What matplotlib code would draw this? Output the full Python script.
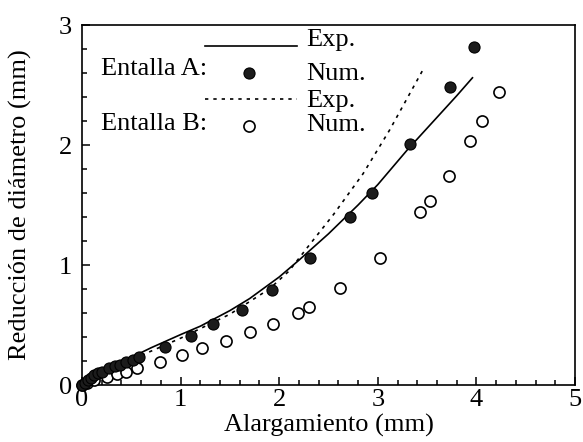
import matplotlib
matplotlib.use("Agg")
import matplotlib.pyplot as plt
from matplotlib.ticker import MultipleLocator
from matplotlib.lines import Line2D

plt.rcParams['font.family'] = ['Liberation Serif', 'DejaVu Serif']

# Entalla A experimental curve
x_A_exp = [0.0, 0.1, 0.2, 0.4, 0.7, 1.0, 1.2, 1.5, 1.7, 2.0, 2.2, 2.5, 2.8, 3.0, 3.3, 3.6, 3.8, 3.96]
y_A_exp = [0.0, 0.06, 0.11, 0.19, 0.31, 0.42, 0.49, 0.62, 0.72, 0.90, 1.04, 1.26, 1.50, 1.67, 1.96, 2.23, 2.41, 2.56]

# Entalla B experimental curve
x_B_exp = [0.0, 0.2, 0.5, 1.0, 1.5, 1.9, 2.1, 2.28, 2.55, 2.85, 3.12, 3.46]
y_B_exp = [0.0, 0.10, 0.21, 0.39, 0.59, 0.80, 0.95, 1.14, 1.42, 1.76, 2.125, 2.63]

# Entalla A numerical points
x_A_num = [0.0, 0.03, 0.06, 0.09, 0.12, 0.16, 0.20, 0.27, 0.33, 0.39, 0.45, 0.52, 0.58,
           0.84, 1.11, 1.33, 1.62, 1.93, 2.31, 2.72, 2.94, 3.33, 3.73, 3.98]
y_A_num = [0.0, 0.02, 0.04, 0.06, 0.08, 0.10, 0.11, 0.14, 0.16, 0.17, 0.19, 0.21, 0.23,
           0.32, 0.41, 0.505, 0.625, 0.79, 1.06, 1.40, 1.60, 2.01, 2.48, 2.82]

# Entalla B numerical points
x_B_num = [0.0, 0.05, 0.12, 0.25, 0.35, 0.45, 0.555, 0.79, 1.01, 1.22, 1.46, 1.70, 1.94,
           2.19, 2.30, 2.62, 3.02, 3.43, 3.53, 3.72, 3.94, 4.06, 4.23]
y_B_num = [0.0, 0.02, 0.04, 0.07, 0.09, 0.11, 0.14, 0.19, 0.25, 0.305, 0.37, 0.44, 0.505,
           0.60, 0.65, 0.81, 1.06, 1.44, 1.53, 1.74, 2.03, 2.20, 2.44]

x_ticks = [0, 1, 2, 3, 4, 5]
y_ticks = [0, 1, 2, 3]

fig = plt.figure(figsize=(5.83, 4.42), dpi=100)
ax = fig.add_axes([82/583, 1-385/442, 493/583, 360/442])

def ya(py):
    return (385 - py) / 360
def xa(px):
    return (px - 82) / 493

lw = 1.2
dot = (0, (2, 3))
ax.plot(x_A_exp, y_A_exp, color='black', lw=lw, zorder=2)
ax.plot(x_B_exp, y_B_exp, color='black', lw=lw, linestyle=dot, zorder=2)
ax.plot(x_B_num, y_B_num, linestyle='none', marker='o', markersize=8,
        markerfacecolor='white', markeredgecolor='black', markeredgewidth=1.2, zorder=3,
        clip_on=False)
ax.plot(x_A_num, y_A_num, linestyle='none', marker='o', markersize=8,
        markerfacecolor='#1c1c1c', markeredgecolor='black', markeredgewidth=0.8, zorder=4,
        clip_on=False)

ax.set_xlim(0, 5)
ax.set_ylim(0, 3)
ax.set_xticks(x_ticks)
ax.set_yticks(y_ticks)
ax.xaxis.set_minor_locator(MultipleLocator(0.2))
ax.yaxis.set_minor_locator(MultipleLocator(0.2))
ax.tick_params(which='both', direction='in', top=False, right=False, width=1.1)
ax.tick_params(which='major', length=6, labelsize=19)
ax.tick_params(axis='x', which='major', pad=3)
ax.tick_params(axis='y', which='major', pad=7)
ax.tick_params(which='minor', length=3.5)
for s in ax.spines.values():
    s.set_linewidth(1.2)

ax.set_xlabel('Alargamiento (mm)', fontsize=19, va='top')
ax.xaxis.set_label_coords(0.5, ya(414))
ax.set_ylabel('Reducción de diámetro (mm)', fontsize=19, va='center')
ax.yaxis.set_label_coords(xa(20), 0.5)

# manual legend
fs = 19
tr = ax.transAxes
ax.add_line(Line2D([xa(205), xa(297)], [ya(45.7), ya(45.7)], color='black', lw=lw, transform=tr))
ax.add_line(Line2D([xa(205), xa(297)], [ya(99), ya(99)], color='black', lw=lw, linestyle=dot, transform=tr))
ax.plot([xa(249)], [ya(72.7)], transform=tr, marker='o', markersize=8,
        markerfacecolor='#1c1c1c', markeredgecolor='black', markeredgewidth=0.8, linestyle='none')
ax.plot([xa(249)], [ya(126)], transform=tr, marker='o', markersize=8,
        markerfacecolor='white', markeredgecolor='black', markeredgewidth=1.2, linestyle='none')
ax.text(xa(207), ya(75), 'Entalla A:', transform=tr, ha='right', va='baseline', fontsize=fs)
ax.text(xa(207), ya(130), 'Entalla B:', transform=tr, ha='right', va='baseline', fontsize=fs)
ax.text(xa(306), ya(46), 'Exp.', transform=tr, ha='left', va='baseline', fontsize=fs)
ax.text(xa(306), ya(80), 'Num.', transform=tr, ha='left', va='baseline', fontsize=fs)
ax.text(xa(306), ya(107), 'Exp.', transform=tr, ha='left', va='baseline', fontsize=fs)
ax.text(xa(306), ya(131), 'Num.', transform=tr, ha='left', va='baseline', fontsize=fs)

fig.savefig('out.png', dpi=100)
